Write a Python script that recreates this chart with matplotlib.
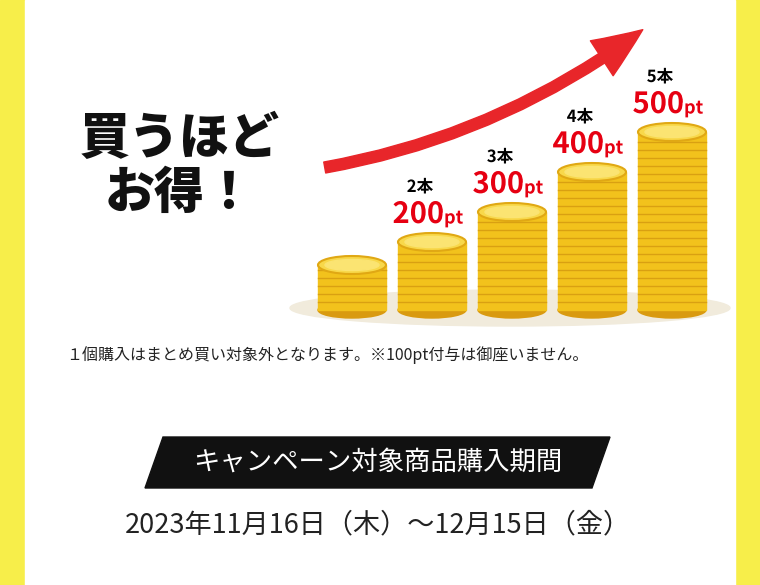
import matplotlib
matplotlib.use('Agg')
import matplotlib.pyplot as plt
from matplotlib.patches import Ellipse, Rectangle, Polygon, FancyArrowPatch
import matplotlib.patheffects as pe

plt.rcParams['font.family'] = ['Noto Sans CJK JP', 'DejaVu Sans']

# data
counts = ['1本', '2本', '3本', '4本', '5本']
points = [0, 200, 300, 400, 500]
stack_heights = [45, 68, 98, 138, 178]   # coin stack height in px
stack_x = [352, 432, 512, 592, 672]

fig = plt.figure(figsize=(7.6, 5.85), dpi=100)
ax = fig.add_axes([0, 0, 1, 1])
ax.set_xlim(0, 760)
ax.set_ylim(585, 0)
ax.axis('off')

# background
ax.add_patch(Rectangle((0, 0), 760, 585, color='#f7ee4a', zorder=0))
ax.add_patch(Rectangle((25, 0), 710, 585, color='white', zorder=0))

# floor shadow
ax.add_patch(Ellipse((510, 308), 440, 36, color='#f1ebdc', zorder=1))

# coin stacks
base = 310
cw = 68
for x, h in zip(stack_x, stack_heights):
    top = base - h
    ax.add_patch(Ellipse((x, base), cw, 16, color='#d99a10', zorder=2))
    ax.add_patch(Rectangle((x - cw / 2, top), cw, h, color='#f2c21c', zorder=2))
    y = base - 8
    while y > top + 4:
        ax.plot([x - cw / 2, x + cw / 2], [y, y], color='#d9a012', lw=1, zorder=3)
        y -= 8
    ax.add_patch(Ellipse((x, top), cw, 18, color='#f8d84a', ec='#e0a814', lw=1.5, zorder=4))
    ax.add_patch(Ellipse((x, top), cw - 14, 11, color='#fbe472', zorder=5))

# arrow
arr = FancyArrowPatch((322, 168), (645, 28), connectionstyle='arc3,rad=0.12',
                      arrowstyle='simple,head_width=30,head_length=36,tail_width=8',
                      color='#e8262a', zorder=6)
ax.add_patch(arr)

# labels
outline = [pe.withStroke(linewidth=4, foreground='white')]
for x, h, c, p in zip(stack_x, stack_heights, counts, points):
    if p == 0:
        continue
    top = base - h
    ax.text(x - 12, top - 55, c, ha='center', va='center', fontsize=12,
            fontweight='bold', color='black', path_effects=outline, zorder=7)
    ax.text(x + 12, top - 28, str(p), ha='right', va='center', fontsize=21,
            fontweight='bold', color='#e60012', path_effects=outline, zorder=7)
    ax.text(x + 12, top - 24, 'pt', ha='left', va='center', fontsize=13,
            fontweight='bold', color='#e60012', path_effects=outline, zorder=7)

ax.text(180, 166, '買うほど\nお得！', ha='center', va='center', fontsize=36,
        fontweight='black', color='#111111', linespacing=1.1, zorder=7)

ax.text(66, 355, '１個購入はまとめ買い対象外となります。※100pt付与は御座いません。',
        ha='left', va='center', fontsize=11.5, color='#222222')

ax.add_patch(Polygon([(163, 437), (610, 437), (592, 488), (145, 488)],
                     closed=True, color='#111111', zorder=2))
ax.text(378, 462, 'キャンペーン対象商品購入期間', ha='center', va='center',
        fontsize=19, color='white', zorder=3)

ax.text(378, 525, '2023年11月16日（木）～12月15日（金）', ha='center', va='center',
        fontsize=19.5, color='#222222')

fig.savefig('out.png', dpi=100)
